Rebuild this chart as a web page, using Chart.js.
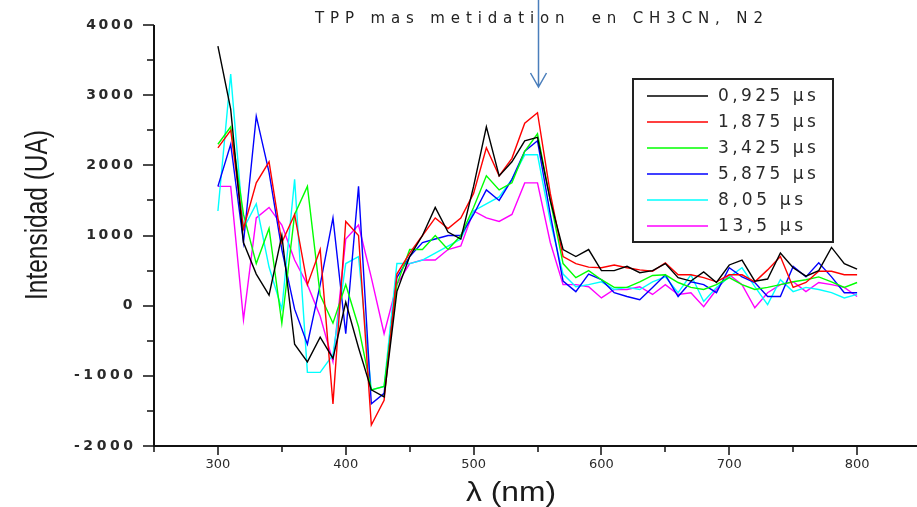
<!DOCTYPE html>
<html>
<head>
<meta charset="utf-8">
<script src="https://cdn.jsdelivr.net/npm/chart.js@4.4.1/dist/chart.umd.min.js"></script>
<style>
  html, body { margin: 0; padding: 0; background: #fff; overflow: hidden; }
  #wrap { width: 930px; height: 507px; }
</style>
</head>
<body>
<div id="wrap"><canvas id="grafico" width="930" height="507"></canvas></div>
<script>
// longitudes de onda (nm)
const longitudes = [300, 310, 320, 330, 340, 350, 360, 370, 380, 390, 400, 410, 420, 430, 440,
  450, 460, 470, 480, 490, 500, 510, 520, 530, 540, 550, 560, 570, 580, 590, 600,
  610, 620, 630, 640, 650, 660, 670, 680, 690, 700, 710, 720, 730, 740, 750, 760, 770, 780, 790, 800];

const etiquetas = ['0,925 µs', '1,875 µs', '3,425 µs', '5,875 µs', '8,05 µs', '13,5 µs'];
const colores = ['#000000', '#ff0000', '#00ff00', '#0000ff', '#00ffff', '#ff00ff'];

const s0925 = [3700, 2800, 900, 450, 150, 1000, -550, -800, -450, -750, 50, -600, -1200, -1300, 200,
  700, 1000, 1400, 1050, 950, 1700, 2550, 1850, 2050, 2350, 2400, 1500, 800, 700, 800, 500,
  500, 560, 470, 500, 600, 400, 350, 480, 330, 580, 650, 350, 380, 750, 540, 420, 500, 830, 600, 520];
const s1875 = [2250, 2500, 1100, 1750, 2050, 900, 1300, 300, 800, -1400, 1200, 1000, -1700, -1350, 450,
  750, 1000, 1250, 1100, 1250, 1600, 2250, 1850, 2100, 2600, 2750, 1600, 700, 600, 550, 540,
  580, 540, 510, 490, 610, 440, 440, 400, 340, 440, 440, 340, 510, 700, 260, 330, 490, 490, 440, 440];
const s3425 = [2300, 2550, 1300, 600, 1100, -250, 1300, 1700, 150, -250, 300, -300, -1200, -1150, 300,
  800, 800, 1000, 800, 1000, 1400, 1850, 1650, 1750, 2200, 2450, 1500, 600, 400, 500, 370,
  260, 260, 340, 430, 440, 330, 260, 230, 300, 400, 300, 230, 260, 300, 340, 370, 410, 340, 260, 330];
const s5875 = [1700, 2300, 900, 2700, 1900, 800, -50, -550, 300, 1250, -400, 1700, -1400, -1250, 400,
  700, 900, 950, 1000, 1000, 1300, 1650, 1500, 1800, 2200, 2350, 1300, 350, 200, 450, 370,
  185, 130, 85, 260, 440, 130, 340, 300, 185, 540, 410, 330, 130, 130, 560, 410, 610, 410, 185, 185];
const s805 = [1350, 3300, 1100, 1450, 550, -50, 1800, -950, -950, -700, 600, 700, -1200, -1150, 600,
  600, 650, 750, 850, 950, 1350, 1450, 1550, 1800, 2150, 2150, 1200, 450, 270, 300, 340,
  230, 260, 230, 340, 410, 185, 440, 60, 260, 410, 540, 270, 15, 370, 200, 260, 230, 185, 110, 160];
const s135 = [1700, 1700, -200, 1250, 1400, 1150, 650, 300, -150, -800, 950, 1150, 400, -400, 300,
  600, 650, 650, 800, 850, 1350, 1250, 1200, 1300, 1750, 1750, 900, 300, 300, 270, 110,
  230, 230, 270, 160, 300, 160, 185, -15, 230, 440, 300, -30, 185, 300, 340, 200, 330, 300, 260, 130];

const series = [s0925, s1875, s3425, s5875, s805, s135];

const ticksY = [-2000, -1000, 0, 1000, 2000, 3000, 4000];
const menoresY = [-1500, -500, 500, 1500, 2500, 3500];
const ticksX = [300, 400, 500, 600, 700, 800];
const menoresX = [250, 350, 450, 550, 650, 750, 850];

const titulo = 'TPP mas metidation  en CH3CN, N2';
const tituloX = 'λ (nm)';
const tituloY = 'Intensidad (UA)';
const picoFlecha = 550;

function textoEspaciado(ctx, txt, x, y, ancho, alinear) {
  ctx.letterSpacing = '0px';
  const w0 = ctx.measureText(txt).width;
  const esp = txt.length > 1 ? Math.max(0, (ancho - w0) / (txt.length - 1)) : 0;
  ctx.letterSpacing = esp + 'px';
  ctx.textAlign = 'left';
  let x0 = x;
  if (alinear === 'right') x0 = x - ancho;
  if (alinear === 'center') x0 = x - ancho / 2;
  ctx.fillText(txt, x0, y);
  ctx.letterSpacing = '0px';
}

function textoAjustado(ctx, txt, x, y, ancho) {
  const w = ctx.measureText(txt).width;
  ctx.save();
  ctx.translate(x, y);
  ctx.scale(ancho / w, 1);
  ctx.textAlign = 'center';
  ctx.fillText(txt, 0, 0);
  ctx.restore();
}

const decoracion = {
  id: 'decoracion',
  afterDraw(chart) {
    const ctx = chart.ctx;
    const xs = chart.scales.x, ys = chart.scales.y;
    const a = chart.chartArea;
    ctx.save();

    // ejes
    ctx.strokeStyle = '#111';
    ctx.lineWidth = 2;
    ctx.beginPath();
    ctx.moveTo(a.left, a.top);
    ctx.lineTo(a.left, a.bottom);
    ctx.lineTo(a.right + 5, a.bottom);
    ctx.stroke();

    ctx.lineWidth = 1.5;
    ctx.beginPath();
    ticksY.forEach(v => { const p = Math.round(ys.getPixelForValue(v)); ctx.moveTo(a.left - 11, p); ctx.lineTo(a.left, p); });
    menoresY.forEach(v => { const p = Math.round(ys.getPixelForValue(v)); ctx.moveTo(a.left - 7, p); ctx.lineTo(a.left, p); });
    ticksX.forEach(v => { const p = Math.round(xs.getPixelForValue(v)); ctx.moveTo(p, a.bottom); ctx.lineTo(p, a.bottom + 9); });
    menoresX.forEach(v => { const p = Math.round(xs.getPixelForValue(v)); ctx.moveTo(p, a.bottom); ctx.lineTo(p, a.bottom + 6); });
    ctx.stroke();

    // etiquetas de ejes
    ctx.fillStyle = '#2a2a2a';
    ctx.textBaseline = 'middle';
    ctx.font = 'bold 14px "DejaVu Sans", sans-serif';
    ticksY.forEach(v => {
      const txt = String(v);
      textoEspaciado(ctx, txt, 133, ys.getPixelForValue(v), txt.length * 12.2 - 2, 'right');
    });
    ctx.font = '13px "DejaVu Sans", sans-serif';
    ctx.textAlign = 'center';
    ticksX.forEach(v => ctx.fillText(String(v), xs.getPixelForValue(v), 465));

    // titulos de ejes
    ctx.fillStyle = '#1a1a1a';
    ctx.font = '28px "Liberation Sans", Arial, sans-serif';
    textoAjustado(ctx, tituloX, 511, 493, 90);

    ctx.save();
    ctx.translate(38, 215);
    ctx.rotate(-Math.PI / 2);
    ctx.font = '32px "Liberation Sans Narrow", "Liberation Sans", Arial, sans-serif';
    textoAjustado(ctx, tituloY, 0, 0, 170);
    ctx.restore();

    // titulo
    ctx.fillStyle = '#222';
    ctx.font = '15px "DejaVu Sans", sans-serif';
    textoEspaciado(ctx, titulo, 315, 19, 448, 'left');

    // flecha
    const fx = Math.round(xs.getPixelForValue(picoFlecha)) + 0.5;
    ctx.strokeStyle = '#4a7ebb';
    ctx.lineWidth = 1.5;
    ctx.beginPath();
    ctx.moveTo(fx, 0);
    ctx.lineTo(fx, 87);
    ctx.moveTo(fx - 8, 73);
    ctx.lineTo(fx, 87);
    ctx.lineTo(fx + 8, 73);
    ctx.stroke();

    // leyenda
    ctx.strokeStyle = '#222';
    ctx.lineWidth = 2;
    ctx.strokeRect(633, 79, 200, 163);
    ctx.font = '17px "DejaVu Sans", sans-serif';
    ctx.textBaseline = 'middle';
    chart.data.datasets.forEach((ds, i) => {
      const yy = 96 + i * 26;
      ctx.strokeStyle = ds.borderColor;
      ctx.lineWidth = 1.5;
      ctx.beginPath();
      ctx.moveTo(647, yy);
      ctx.lineTo(708, yy);
      ctx.stroke();
      ctx.fillStyle = '#2a2a2a';
      textoEspaciado(ctx, ds.label, 718, yy + 1, ds.label.length * 12.6 - 3, 'left');
    });

    ctx.restore();
  }
};

const ctxG = document.getElementById('grafico');

new Chart(ctxG, {
  type: 'line',
  data: {
    datasets: series.map((s, i) => ({
      label: etiquetas[i],
      data: longitudes.map((x, j) => ({ x: x, y: s[j] })),
      borderColor: colores[i],
      borderWidth: 1.4,
      pointRadius: 0,
      tension: 0,
      fill: false
    }))
  },
  options: {
    responsive: false,
    animation: false,
    devicePixelRatio: 1,
    layout: { padding: { left: 154, top: 25, right: 9, bottom: 61 } },
    plugins: {
      legend: { display: false },
      tooltip: { enabled: false }
    },
    scales: {
      x: { type: 'linear', min: 250, max: 850, display: false },
      y: { type: 'linear', min: -2000, max: 4000, display: false }
    }
  },
  plugins: [decoracion]
});
</script>
</body>
</html>
